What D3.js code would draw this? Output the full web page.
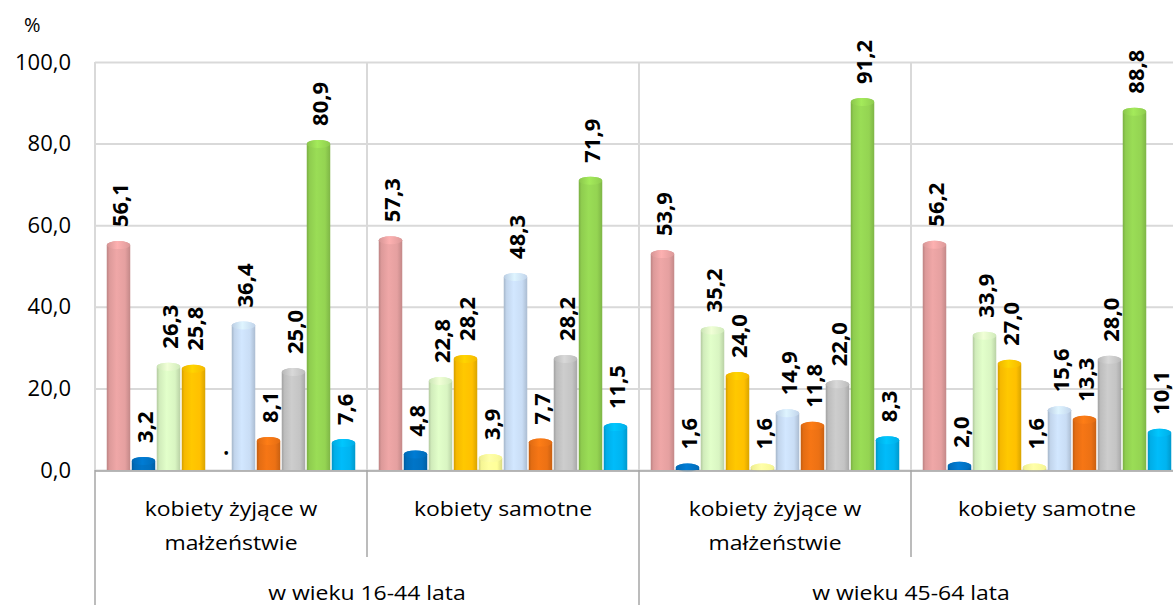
<!DOCTYPE html>
<html><head><meta charset="utf-8">
<script src="https://cdn.jsdelivr.net/npm/d3@7"></script>
<style>body{margin:0;background:#fff;overflow:hidden} svg{display:block}</style>
</head><body>
<svg id="chart" width="1173" height="605"></svg>
<script>
// ---- data ----
const categories = ["kobiety żyjące w|małżeństwie", "kobiety samotne", "kobiety żyjące w|małżeństwie", "kobiety samotne"];
const ageGroups = ["w wieku 16-44 lata", "w wieku 45-64 lata"];
const yTicks = [0, 20, 40, 60, 80, 100];
const s1 = [56.1, 57.3, 53.9, 56.2];
const s2 = [3.2, 4.8, 1.6, 2.0];
const s3 = [26.3, 22.8, 35.2, 33.9];
const s4 = [25.8, 28.2, 24.0, 27.0];
const s5 = [null, 3.9, 1.6, 1.6];
const s6 = [36.4, 48.3, 14.9, 15.6];
const s7 = [8.1, 7.7, 11.8, 13.3];
const s8 = [25.0, 28.2, 22.0, 28.0];
const s9 = [80.9, 71.9, 91.2, 88.8];
const s10 = [7.6, 11.5, 8.3, 10.1];
const seriesValues = [s1, s2, s3, s4, s5, s6, s7, s8, s9, s10];
const seriesColors = ["#E5A0A0", "#0070C0", "#D9F5C2", "#FFC000", "#FFFF99", "#C9DDF5", "#EC7114", "#C4C4C4", "#94D452", "#00B4F0"];

// ---- layout ----
const svg = d3.select("#chart");
const L = 95, R = 1183, T = 62, B = 470;
const fmt = v => d3.format(".1f")(v).replace(".", ",");
const FONT = "'Open Sans', sans-serif";

const y = d3.scaleLinear().domain([0, 100]).range([B, T]);
const x0 = d3.scaleBand().domain(d3.range(categories.length)).range([L, R]).padding(0);
const x1 = d3.scaleBand().domain(d3.range(seriesValues.length)).range([0, x0.bandwidth()])
  .paddingInner(0.06).paddingOuter(0.47);

// gradients
const defs = svg.append("defs");
seriesColors.forEach((c, i) => {
  const col = d3.color(c);
  const g = defs.append("linearGradient").attr("id", "g" + i).attr("x1", 0).attr("x2", 1).attr("y1", 0).attr("y2", 0);
  [[0, col.darker(0.55)], [0.12, col.darker(0.1)], [0.42, col.brighter(0.12)], [0.78, col], [1, col.darker(0.45)]]
    .forEach(([o, cc]) => g.append("stop").attr("offset", o).attr("stop-color", cc.formatHex()));
  const gc = defs.append("linearGradient").attr("id", "c" + i).attr("x1", 0).attr("x2", 1).attr("y1", 0).attr("y2", 0);
  [[0, col.darker(0.2)], [0.45, col.brighter(0.3)], [1, col.darker(0.1)]]
    .forEach(([o, cc]) => gc.append("stop").attr("offset", o).attr("stop-color", cc.formatHex()));
});

// gridlines
svg.append("g").attr("transform", `translate(${L},0)`)
  .call(d3.axisLeft(y).tickValues(yTicks).tickSize(-(R - L)).tickFormat(""))
  .call(g => g.select(".domain").remove())
  .call(g => g.selectAll(".tick line").attr("stroke", "#D9D9D9").attr("stroke-width", 2));
svg.append("g").selectAll("line").data(d3.range(categories.length + 1)).join("line")
  .attr("x1", i => L + i * x0.bandwidth()).attr("x2", i => L + i * x0.bandwidth())
  .attr("y1", T).attr("y2", B).attr("stroke", "#D9D9D9").attr("stroke-width", 2);

// y axis labels
svg.append("g").attr("transform", `translate(${L},0)`)
  .call(d3.axisLeft(y).tickValues(yTicks).tickSize(0).tickPadding(24).tickFormat(fmt))
  .call(g => g.select(".domain").remove())
  .call(g => g.selectAll("text").attr("font-family", FONT).attr("font-size", 22).attr("fill", "#000"));
svg.append("text").attr("x", 24).attr("y", 32).text("%")
  .attr("font-family", FONT).attr("font-size", 20).attr("fill", "#000");

// bars
const ry = 4;
const barData = [];
seriesValues.forEach((vals, si) => vals.forEach((v, ci) => barData.push({ si, ci, v })));
const bars = svg.append("g");
barData.filter(d => d.v != null).forEach(d => {
  const bx = x0(d.ci) + x1(d.si), w = x1.bandwidth(), top = y(d.v);
  const rx = w / 2;
  bars.append("path")
    .attr("d", `M${bx},${top + ry} L${bx},${B} L${bx + w},${B} L${bx + w},${top + ry} A${rx},${ry} 0 0 0 ${bx},${top + ry} Z`)
    .attr("fill", `url(#g${d.si})`);
  bars.append("ellipse").attr("cx", bx + rx).attr("cy", top + ry).attr("rx", rx).attr("ry", ry)
    .attr("fill", `url(#c${d.si})`).attr("opacity", 0.9);
});

// data labels
svg.append("g").selectAll("text").data(barData).join("text")
  .attr("transform", d => `translate(${x0(d.ci) + x1(d.si) + x1.bandwidth() / 2},${y(d.v == null ? 0 : d.v) - 14}) rotate(-90)`)
  .attr("dominant-baseline", "central")
  .attr("font-family", FONT).attr("font-size", 22).attr("font-weight", "bold").attr("fill", "#000")
  .text(d => d.v == null ? "." : fmt(d.v));

// category axis
const axisCol = "#A6A6A6";
svg.append("line").attr("x1", L).attr("x2", R).attr("y1", B + 1).attr("y2", B + 1).attr("stroke", axisCol).attr("stroke-width", 1.5);
svg.append("g").selectAll("line").data(d3.range(categories.length + 1)).join("line")
  .attr("x1", i => L + i * x0.bandwidth()).attr("x2", i => L + i * x0.bandwidth())
  .attr("y1", B).attr("y2", i => i % 2 === 0 ? 605 : 557)
  .attr("stroke", axisCol).attr("stroke-width", 1.5);

const catG = svg.append("g");
categories.forEach((c, ci) => {
  const lines = c.split("|");
  lines.forEach((ln, li) => {
    catG.append("text")
      .attr("transform", `translate(${x0(ci) + x0.bandwidth() / 2},${508 + li * 34}) scale(1.12,1)`)
      .attr("text-anchor", "middle").attr("dominant-baseline", "central")
      .attr("font-family", FONT).attr("font-size", 20.5).attr("fill", "#000").text(ln);
  });
});
ageGroups.forEach((a, ai) => {
  svg.append("text")
    .attr("transform", `translate(${L + (ai * 2 + 1) * x0.bandwidth()},592) scale(1.12,1)`)
    .attr("text-anchor", "middle").attr("dominant-baseline", "central")
    .attr("font-family", FONT).attr("font-size", 20.5).attr("fill", "#000").text(a);
});
</script>
</body></html>
